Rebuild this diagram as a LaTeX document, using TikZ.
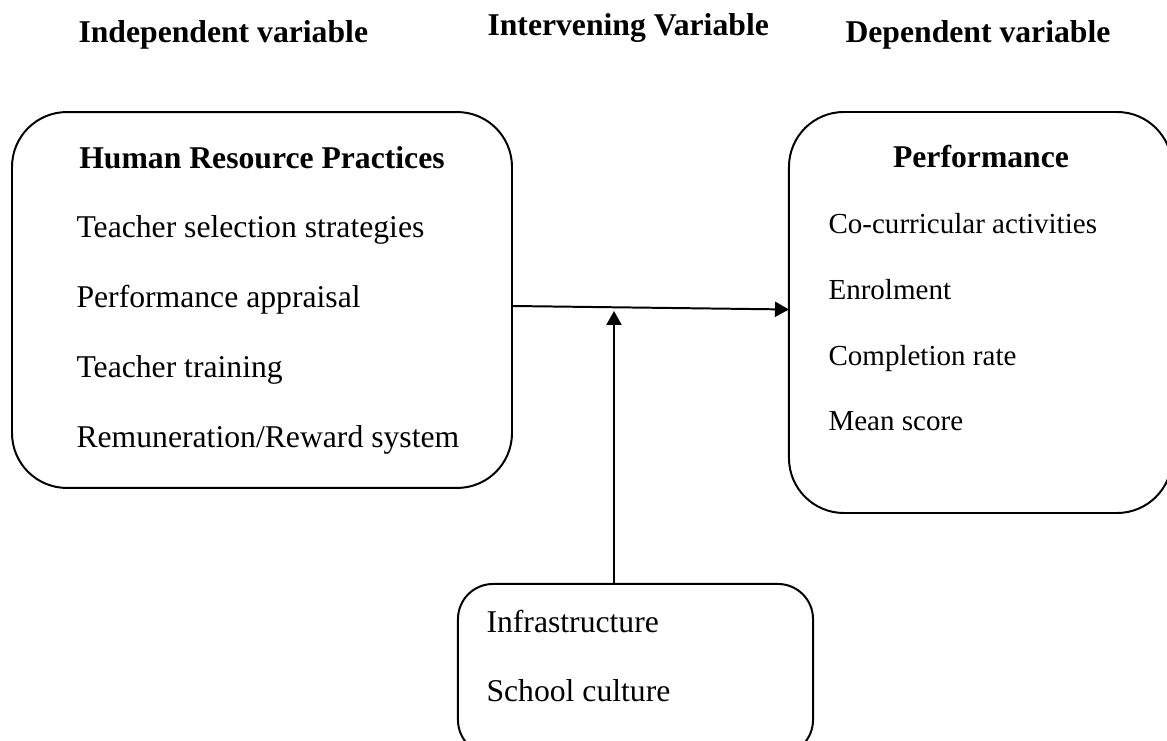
\documentclass[tikz,border=0pt]{standalone}
\usepackage{fontspec}
\setmainfont{Liberation Serif}
\usetikzlibrary{arrows.meta}
\begin{document}
\begin{tikzpicture}[x=0.3788pt, y=-0.3788pt,
  box/.style={draw, line width=0.75pt, inner sep=0pt, outer sep=0pt},
  item/.style={anchor=base west, inner sep=0pt, font=\fontsize{12}{14}\selectfont},
  smallitem/.style={anchor=base west, inner sep=0pt, font=\fontsize{11}{13}\selectfont},
  head/.style={anchor=base, inner sep=0pt, font=\fontsize{12}{14}\selectfont\bfseries},
  arr/.style={line width=0.75pt, -{Triangle[length=5.3pt,width=5.7pt]}}]
\clip (0,0) rectangle (1167,741);
\node[head, anchor=base west] (indep) at (78,43){Independent variable};
\node[head, anchor=base west] (interv) at (487,36){Intervening Variable};
\node[head, anchor=base west] (dep) at (845,43){Dependent variable};
\node[box, rounded corners=20.8pt, minimum width=189.4pt, minimum height=142.4pt] (hrp) at (262,300){};
\node[head] (hrptitle) at (262,169){Human Resource Practices};
\node[item] (hrp1) at (76,238){Teacher selection strategies};
\node[item] (hrp2) at (76,308){Performance appraisal};
\node[item] (hrp3) at (76,378){Teacher training};
\node[item] (hrp4) at (76,448){Remuneration/Reward system};
\node[box, rounded corners=20.8pt, minimum width=145.1pt, minimum height=151.9pt] (perf) at (980.5,312.5){};
\node[head] (perftitle) at (981,168){Performance};
\node[smallitem] (perf1) at (828,234){Co-curricular activities};
\node[smallitem] (perf2) at (828,300){Enrolment};
\node[smallitem] (perf3) at (828,366){Completion rate};
\node[smallitem] (perf4) at (828,431){Mean score};
\node[box, rounded corners=13.3pt, minimum width=134.5pt, minimum height=64.8pt] (infra) at (635.5,669.5){};
\node[item] (infra1) at (486,633){Infrastructure};
\node[item] (infra2) at (486,701){School culture};
\coordinate (meet) at (614,311);
\draw[arr] ([yshift=-2.27pt]hrp.east) -- ([yshift=1.14pt]perf.west);
\draw[arr] (meet |- infra.north) -- (meet);
\end{tikzpicture}
\end{document}
